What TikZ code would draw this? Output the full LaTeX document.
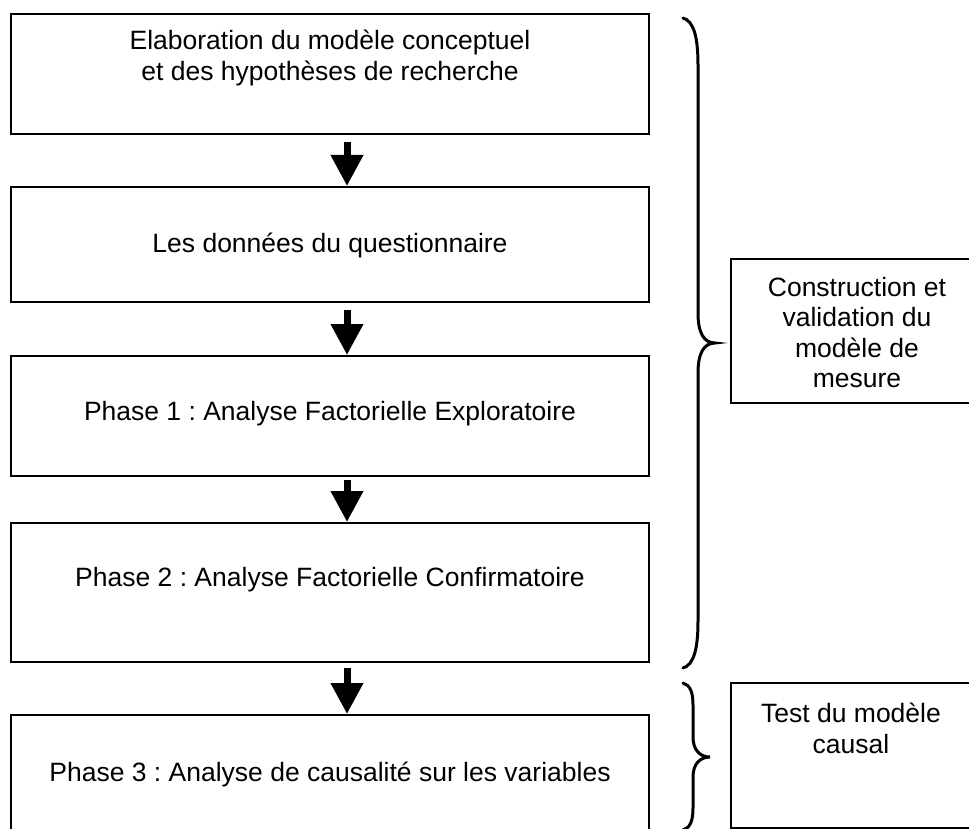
\documentclass[tikz,border=0pt]{standalone}
\usepackage{fontspec}
\setmainfont{Liberation Sans}
\usetikzlibrary{arrows.meta}
\frenchspacing
\begin{document}
\begin{tikzpicture}[x=1pt,y=-1pt,
  box/.style={draw,line width=2pt,inner sep=0pt,minimum width=638pt},
  sidebox/.style={draw,line width=2pt,inner sep=0pt,minimum width=252pt},
  lbl/.style={font=\fontsize{26.5}{30.5}\selectfont,align=center,inner sep=0pt},
  blockarrow/.style={line width=7pt,-{Triangle[width=31pt,length=31pt]}},
  bracestyle/.style={line width=3pt,line cap=round}]
\useasboundingbox (0,0) rectangle (969,829);
\clip (0,0) rectangle (969,829);

% main boxes
\node[box,minimum height=120pt] (b1) at (330,74) {};
\node[box,minimum height=115pt] (b2) at (330,244.5) {};
\node[box,minimum height=120pt] (b3) at (330,416) {};
\node[box,minimum height=139pt] (b4) at (330,592.5) {};
\node[box,minimum height=130pt] (b5) at (330,780) {};

% texts
\node[lbl] (t1) at (330,58) {Elaboration du modèle conceptuel\\et des hypothèses de recherche};
\node[lbl] (t2) at (330,245) {Les données du questionnaire};
\node[lbl] (t3) at (330,414) {Phase 1 : Analyse Factorielle Exploratoire};
\node[lbl] (t4) at (330,580) {Phase 2 : Analyse Factorielle Confirmatoire};
\node[lbl] (t5) at (330,774) {Phase 3 : Analyse de causalité sur les variables};

% side boxes
\node[sidebox,minimum height=144pt] (m) at (857,331) {};
\node[lbl] (mt) at (857,332.5) {Construction et\\validation du\\modèle de\\mesure};
\node[sidebox,minimum height=145pt] (c) at (857,755.5) {};
\node[lbl] (ct) at (851,728.5) {Test du modèle\\causal};

% arrows
\draw[blockarrow] ([xshift=17pt,yshift=-7pt]b1.south) -- ([xshift=17pt]b2.north);
\draw[blockarrow] ([xshift=17pt,yshift=-7pt]b2.south) -- ([xshift=17pt]b3.north);
\draw[blockarrow] ([xshift=17pt,yshift=-3pt]b3.south) -- ([xshift=17pt]b4.north);
\draw[blockarrow] ([xshift=17pt,yshift=-5pt]b4.south) -- ([xshift=17pt]b5.north);

% braces
\draw[bracestyle] (683,18) .. controls (694,21) and (698,38) .. (698,65) -- (698,313)
  .. controls (698,333) and (704,343) .. (715,343)
  .. controls (704,343) and (698,353) .. (698,373) -- (698,621)
  .. controls (698,648) and (694,665) .. (683,668);
\draw[bracestyle] (683,683) .. controls (690,685) and (693,692) .. (693,705) -- (693,737)
  .. controls (693,750) and (700,757) .. (710,757)
  .. controls (700,757) and (693,764) .. (693,777) -- (693,808)
  .. controls (693,821) and (690,828) .. (683,830);
\end{tikzpicture}
\end{document}
